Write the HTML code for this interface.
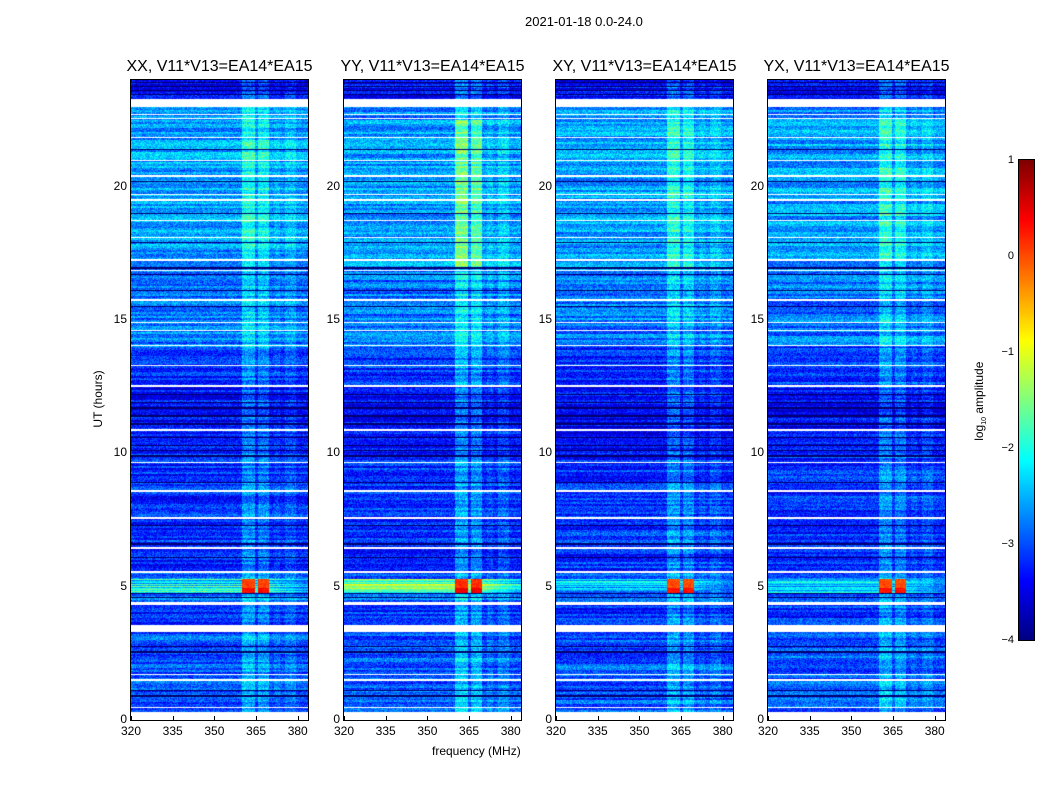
<!DOCTYPE html>
<html><head><meta charset="utf-8">
<style>
body{margin:0;background:#fff;font-family:"Liberation Sans",sans-serif;}
#wrap{position:relative;width:1050px;height:800px;overflow:hidden;background:#fff;}
.t{position:absolute;font-size:13px;color:#000;white-space:nowrap;}
canvas{position:absolute;}
.frame{position:absolute;border:1px solid #000;box-sizing:border-box;}
</style></head><body>
<div id="wrap">
<div class="t" style="left:525px;top:14px;font-size:13px">2021-01-18 0.0-24.0</div>
<div class="t" style="left:432px;top:744px;font-size:12px">frequency (MHz)</div>
<div class="t" style="left:58px;top:392px;font-size:12px;transform:rotate(-90deg);transform-origin:center;width:80px;text-align:center">UT (hours)</div>
<canvas id="cbar" width="15" height="480" style="left:1019px;top:160px"></canvas>
<div class="frame" style="left:1018px;top:159px;width:17px;height:482px"></div>
<div class="t" style="left:930px;top:393px;font-size:12px;transform:rotate(-90deg);width:100px;text-align:center">log<sub style="font-size:7px">10</sub> amplitude</div>
</div>
<script>
// ---- data ----
const panelTitles=["XX, V11*V13=EA14*EA15","YY, V11*V13=EA14*EA15","XY, V11*V13=EA14*EA15","YX, V11*V13=EA14*EA15"];
const panelLefts=[131,344,556,768];
const xTicks=[320,335,350,365,380];
const yTicks=[0,5,10,15,20];
const cbTicks=[1,0,-1,-2,-3,-4];
const freqMin=320, freqMax=383.7, hourMin=0, hourMax=24;
// baseline level segments [startHour,endHour,log10 amplitude]
const levelSegs=[[0,3.3,-2.95],[3.3,4.4,-3.15],[4.4,5.5,-2.9],[5.5,10,-3.15],[10,12.5,-3.35],[12.5,14,-3.15],[14,17,-2.8],[17,22.5,-2.6],[22.5,23.3,-2.7],[23.3,24,-3.35]];
// white (flagged) gaps [startHour,endHour]
const gaps=[[0,0.3],[0.45,0.5],[1.45,1.52],[1.68,1.74],[3.3,3.55],[4.3,4.42],[5.52,5.58],[6.4,6.5],[7.55,7.62],[8.55,8.63],[9.62,9.68],[10.85,10.9],[12.5,12.56],[13.28,13.33],[14.02,14.08],[14.58,14.64],[14.88,14.94],[15.72,15.78],[16.83,16.88],[17.22,17.27],[18.08,18.12],[18.72,18.76],[19.48,19.52],[19.68,19.72],[20.38,20.42],[20.95,21.0],[21.82,21.86],[22.53,22.58],[22.68,22.74],[23.0,23.3]];
// dark rows (hours)
const darkRows=[0.9,1.1,2.55,2.75,4.6,4.75,6.1,6.6,7.3,8.9,9.9,10.1,10.3,10.6,11.1,11.4,11.7,11.9,12.2,15.5,16.1,16.7,16.95,17.9,19.0,20.2,21.4,23.45,23.6,23.75,23.9];
// bright frequency bands [fStart,fEnd,boost]
const bands=[[360,364.6,0.5],[365.6,369.6,0.42],[371.5,373.5,0.15],[375.5,379.5,0.22]];
// RFI burst levels per panel
const rfiLevel=[0.05,0.15,0.0,0.0];
const rowBrightAt5=[-2.2,-1.5,-2.5,-2.4];
const bandScale=[1,1.2,1,1];
const bandTopBoost=[1.2,1.7,1.3,1.3];
// ---- drawing ----
const W=177,H=640,TOP=80;
const wrap=document.getElementById('wrap');
function jet(v){
  const r=Math.min(1,Math.max(0,1.5-Math.abs(4*v-3)));
  const g=Math.min(1,Math.max(0,1.5-Math.abs(4*v-2)));
  const b=Math.min(1,Math.max(0,1.5-Math.abs(4*v-1)));
  return [r*255|0,g*255|0,b*255|0];
}
function xs(f){return (f-freqMin)/(freqMax-freqMin)*W;}
function ys(h){return H-(h-hourMin)/(hourMax-hourMin)*H;}
function hash(a,b,c){let h=(a*374761393+b*668265263+c*2147483647)|0;h=(h^(h>>>13))*1274126177|0;h^=h>>>16;return ((h>>>0)%10000)/10000;}
function levelAt(h){for(const s of levelSegs){if(h>=s[0]&&h<s[1])return s[2];}return -3;}
panelLefts.forEach((L,p)=>{
  const t=document.createElement('div');t.className='t';
  
  
  t.style.cssText=`left:${L-30}px;top:58px;width:${W+60}px;text-align:center;font-size:16px`;
  t.textContent=panelTitles[p];wrap.appendChild(t);
  const c=document.createElement('canvas');c.width=W;c.height=H;
  c.style.left=L+'px';c.style.top=TOP+'px';
  
  
  wrap.appendChild(c);
  const ctx=c.getContext('2d');const img=ctx.createImageData(W,H);
  for(let y=0;y<H;y++){
    const h=(H-y-0.5)/H*(hourMax-hourMin);
    const rowN=(hash(y>>1,p*7+3,11)-0.5)*0.6;
    const rowR=(hash(y,p,5)-0.5)*1.4;
    for(let x=0;x<W;x++){
      const f=freqMin+(x+0.5)/W*(freqMax-freqMin);
      let v=levelAt(h)+rowN+(hash(x,y,p+1)-0.5)*0.7;
      for(const b of bands){if(f>=b[0]&&f<b[1])v+=b[2]*bandScale[p]*(h>17&&h<22.5&&b[2]>0.3?bandTopBoost[p]:1);}
      if(h>4.75&&h<5.3){
        const fall=f>370?(f-370)*0.06:0;
        v=Math.max(v,rowBrightAt5[p]+rowR-fall+(hash(x,y,3)-0.5)*0.5);
        if((f>=360&&f<364.6)||(f>=365.6&&f<369.6))v=rfiLevel[p]+(h<4.95?0.3:0)+(hash(x,y,9)-0.5)*0.3;}
      let col;
      let white=false,dark=false;
      for(const g of gaps){if(h>=g[0]&&h<g[1]){white=true;break;}}
      for(const d of darkRows){if(Math.abs(h-d)<0.03){dark=true;break;}}
      if(white)col=[255,255,255];else if(dark)col=[0,0,110];
      else{const n=Math.min(1,Math.max(0,(v+4)/5));col=jet(n);}
      const i=(y*W+x)*4;img.data[i]=col[0];img.data[i+1]=col[1];img.data[i+2]=col[2];img.data[i+3]=255;
    }
  }
  ctx.putImageData(img,0,0);
  const fr=document.createElement('div');fr.className='frame';
  
  
  fr.style.cssText=`left:${L-1}px;top:${TOP-1}px;width:${W+2}px;height:${H+2}px`;wrap.appendChild(fr);
  xTicks.forEach(v=>{
    const l=document.createElement('div');l.className='t';
    
    
    l.style.cssText=`left:${L+xs(v)-15}px;top:${TOP+H+4}px;width:30px;text-align:center;font-size:12px`;
    l.textContent=v;wrap.appendChild(l);
    const k=document.createElement('div');
    
    
    k.style.cssText=`position:absolute;left:${L+xs(v)}px;top:${TOP+H-4}px;width:1px;height:4px;background:#000`;wrap.appendChild(k);
  });
  yTicks.forEach(v=>{
    const l=document.createElement('div');l.className='t';
    
    
    l.style.cssText=`left:${L-34}px;top:${TOP+ys(v)-8}px;width:30px;text-align:right;font-size:12px`;
    l.textContent=v;wrap.appendChild(l);
  });
});
// colorbar
const cb=document.getElementById('cbar').getContext('2d');
for(let y=0;y<480;y++){const c=jet(1-y/480);cb.fillStyle=`rgb(${c})`;cb.fillRect(0,y,15,1);}
cbTicks.forEach(v=>{
  const y=160+(1-v)/5*480;
  const l=document.createElement('div');l.className='t';
  
  
  l.style.cssText=`left:990px;top:${y-6}px;width:24px;text-align:right;font-size:11px`;
  l.textContent=v<0?'\u2212'+(-v):v;wrap.appendChild(l);
});
</script>
</body></html>
